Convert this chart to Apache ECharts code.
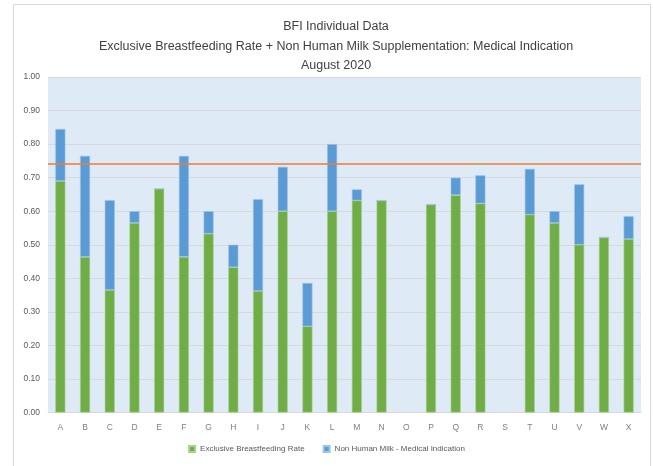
<!DOCTYPE html>
<html>
<head>
<meta charset="utf-8">
<script src="https://cdn.jsdelivr.net/npm/echarts@6/dist/echarts.min.js"></script>
<style>
  html, body { margin: 0; padding: 0; background: #ffffff; }
  #chart { width: 653px; height: 466px; }
</style>
</head>
<body>
<div id="chart"></div>
<script>
// Facility codes along the x axis
const categories = ['A','B','C','D','E','F','G','H','I','J','K','L','M','N','O','P','Q','R','S','T','U','V','W','X'];

// Exclusive breastfeeding rate per facility
const exclusiveRate = [0.690, 0.464, 0.365, 0.565, 0.667, 0.464, 0.533, 0.433, 0.362, 0.600, 0.257, 0.600,
                       0.632, 0.632, null, 0.620, 0.648, 0.623, null, 0.590, 0.565, 0.500, 0.522, 0.517];

// Non human milk supplementation for medical indication, stacked on top
const medicalSupplement = [0.155, 0.301, 0.268, 0.035, 0, 0.301, 0.067, 0.067, 0.274, 0.132, 0.129, 0.200,
                           0.033, 0, null, 0, 0.052, 0.084, null, 0.136, 0.035, 0.180, 0, 0.068];

// Target rate drawn as a horizontal reference line
const targetRate = 0.737;

const titleLines = ['BFI Individual Data',
                    'Exclusive Breastfeeding Rate + Non Human Milk Supplementation: Medical Indication',
                    'August 2020'];

const seriesNames = ['Exclusive Breastfeeding Rate', 'Non Human Milk - Medical Indication'];

const FONT = "'Liberation Sans Narrow', 'Liberation Sans', Arial, sans-serif";
const chart = echarts.init(document.getElementById('chart'), null, { renderer: 'canvas' });

chart.setOption({
  backgroundColor: '#ffffff',
  animation: false,
  textStyle: { fontFamily: FONT },
  graphic: [{
    type: 'rect',
    shape: { x: 13.5, y: 4.5, width: 637, height: 470 },
    style: { fill: 'none', stroke: '#D9D9D9', lineWidth: 1 },
    silent: true
  }],
  title: {
    text: titleLines.join('\n'),
    left: 331,
    textAlign: 'center',
    top: 12,
    textStyle: { fontFamily: FONT, fontSize: 12.5, fontWeight: 'normal', color: '#404040', lineHeight: 19.5 }
  },
  legend: {
    data: seriesNames,
    bottom: 8,
    left: 'center',
    icon: 'rect',
    itemWidth: 6,
    itemHeight: 6,
    itemGap: 18,
    textStyle: { fontFamily: FONT, fontSize: 8, color: '#595959' }
  },
  grid: {
    left: 48, right: 12, top: 77, bottom: 53.5,
    show: true, backgroundColor: '#DEEAF6', borderWidth: 0
  },
  xAxis: {
    type: 'category',
    data: categories,
    axisTick: { show: false },
    axisLine: { lineStyle: { color: '#D9D9D9' } },
    axisLabel: { color: '#7F7F7F', fontSize: 8.5, margin: 11, fontFamily: FONT }
  },
  yAxis: {
    type: 'value',
    min: 0, max: 1, interval: 0.1,
    axisLine: { show: false },
    axisTick: { show: false },
    splitLine: { lineStyle: { color: '#D9D9D9' } },
    axisLabel: { color: '#595959', fontSize: 8.5, margin: 8, fontFamily: FONT,
                 formatter: v => v.toFixed(2) }
  },
  series: [
    {
      name: seriesNames[0],
      type: 'bar',
      stack: 'total',
      barWidth: 10,
      data: exclusiveRate,
      itemStyle: { color: '#70AD47', borderColor: '#A9D18E', borderWidth: 0.6 },
      markLine: {
        silent: true,
        symbol: 'none',
        label: { show: false },
        lineStyle: { color: '#ED7D31', type: 'solid', width: 1.5 },
        data: [{ yAxis: targetRate }]
      }
    },
    {
      name: seriesNames[1],
      type: 'bar',
      stack: 'total',
      barWidth: 10,
      data: medicalSupplement,
      itemStyle: { color: '#5B9BD5', borderColor: '#9DC3E6', borderWidth: 0.6 }
    }
  ]
});
</script>
</body>
</html>
